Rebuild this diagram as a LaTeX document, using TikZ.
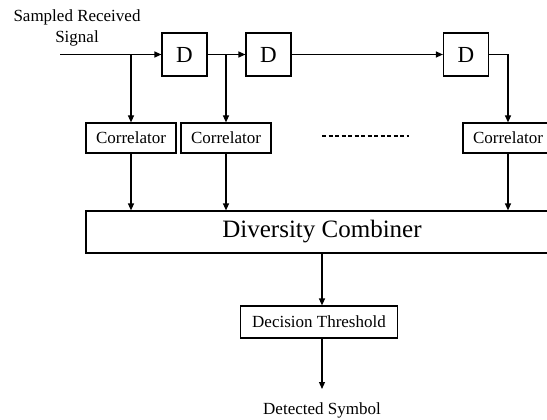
\documentclass[tikz,border=0pt]{standalone}
\usepackage{fontspec}
\setmainfont{Liberation Serif}
\usepackage{tikz}
\usetikzlibrary{arrows.meta}

\begin{document}
\begin{tikzpicture}[x=1pt,y=-1pt,
        blk/.style={draw, line width=1.2pt, inner sep=0pt, font=\fontsize{17}{20}\selectfont},
        sig/.style={line width=1.2pt, -{Triangle[length=7pt,width=6pt]}},
        wire/.style={line width=1.2pt}]
            \clip (0,0) rectangle (547,420);

            % delay line
            \node[blk, minimum width=45, minimum height=43, font=\fontsize{23}{26}\selectfont] (d1) at (184.5,54.5) {D};
            \node[blk, minimum width=45, minimum height=43, font=\fontsize{23}{26}\selectfont] (d2) at (268.5,54.5) {D};
            \node[blk, minimum width=45, minimum height=43, font=\fontsize{23}{26}\selectfont] (d3) at (466,54.5) {D};

            % correlators
            \foreach \n/\x in {1/131,2/226,3/508} {
                    \node[blk, minimum width=90, minimum height=30] (cor\n) at (\x,138) {Correlator};
                }

            \node[blk, minimum width=472, minimum height=42, font=\fontsize{25}{28}\selectfont] (comb) at (322,232) {Diversity Combiner};
            \node[blk, minimum width=157, minimum height=32] (dec) at (319,322) {Decision Threshold};

            \node[align=center, font=\fontsize{17}{21}\selectfont] (insig) at (77,27.5) {Sampled Received\\Signal};
            \node[font=\fontsize{17}{20}\selectfont] (outsym) at (322,410) {Detected Symbol};

            \coordinate (in) at (60,54.5);
            \coordinate (out) at (322,389);
            \coordinate (dotsl) at (322,136);
            \coordinate (dotsr) at (409,136);

            \draw[sig] (in) -- (d1.west);
            \draw[sig] (d1.east) -- (d2.west);
            \draw[sig] (d2.east) -- (d3.west);
            \draw[sig] (cor1.north |- in) -- (cor1.north);
            \draw[sig] (cor2.north |- d1.east) -- (cor2.north);
            \draw[sig] (d3.east) -| (cor3.north);
            \draw[wire, dashed, dash pattern=on 4pt off 2.5pt] (dotsl) -- (dotsr);

            \foreach \n in {1,2,3} {
                    \draw[sig] (cor\n.south) -- (cor\n.south |- comb.north);
                }

            \draw[sig] (comb.south) -- (comb.south |- dec.north);
            \draw[sig] (comb.south |- dec.south) -- (out);
        \end{tikzpicture}
\end{document}
